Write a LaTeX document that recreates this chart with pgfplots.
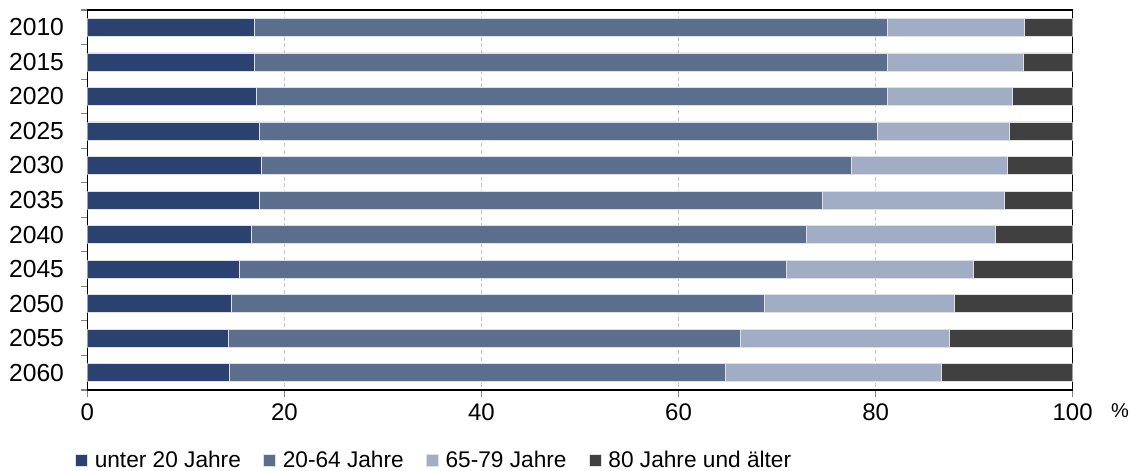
\documentclass[border=0pt]{standalone}
\usepackage{pgfplots}
\pgfplotsset{compat=1.18}
\usepackage{fontspec}
\setmainfont{Liberation Sans}
\definecolor{cA}{RGB}{43,65,112}
\definecolor{cB}{RGB}{92,110,142}
\definecolor{cC}{RGB}{160,173,196}
\definecolor{cD}{RGB}{64,64,64}
\begin{document}
\begin{tikzpicture}
\begin{axis}[
  scale only axis,
  width=739pt, height=285pt,
  xbar stacked,
  bar width=13.5pt,
  xmin=0, xmax=100,
  ymin=0.5, ymax=11.5,
  y dir=reverse,
  xtick={0,20,40,60,80,100},
  ytick={0.5,1.5,...,11.5},
  yticklabels={2010,2015,2020,2025,2030,2035,2040,2045,2050,2055,2060,{}},
  yticklabel style={yshift=-12.94pt, xshift=-9pt, font=\fontsize{18.5}{20}\selectfont},
  xticklabel style={font=\fontsize{18}{20}\selectfont, yshift=-2pt},
  /pgf/number format/assume math mode=true,
  tick align=outside,
  major tick length=5pt,
  xtick pos=bottom, ytick pos=left,
  tick style={draw=gray, line width=0.8pt},
  axis line style={black, line width=1.2pt},
  xmajorgrids,
  major x grid style={densely dashed, draw=black!22, line width=0.5pt},
  legend columns=4,
  legend style={draw=none, fill=none, at={(-0.0129,-0.184)}, anchor=west,
    font=\fontsize{17}{20}\selectfont,
    /tikz/every even column/.append style={column sep=14pt},
    inner sep=0pt},
  legend image code/.code={\fill[#1] (0pt,-4.5pt) rectangle (9pt,4.5pt); \path (12pt,0pt);},
  legend style={nodes={inner sep=2.5pt}},
  every axis plot/.append style={draw=black!12!white, line width=0.4pt},
]
\addplot[fill=cA] coordinates {(16.9,1) (16.9,2) (17.1,3) (17.5,4) (17.7,5) (17.5,6) (16.6,7) (15.4,8) (14.6,9) (14.3,10) (14.4,11)};
\addplot[fill=cB] coordinates {(64.3,1) (64.3,2) (64.1,3) (62.7,4) (59.8,5) (57.1,6) (56.4,7) (55.5,8) (54.1,9) (52.0,10) (50.3,11)};
\addplot[fill=cC] coordinates {(13.9,1) (13.8,2) (12.7,3) (13.4,4) (15.9,5) (18.5,6) (19.1,7) (19.0,8) (19.3,9) (21.2,10) (22.0,11)};
\addplot[fill=cD] coordinates {(4.9,1) (5.0,2) (6.1,3) (6.4,4) (6.6,5) (6.9,6) (7.9,7) (10.1,8) (12.0,9) (12.5,10) (13.3,11)};
\legend{unter 20 Jahre, 20-64 Jahre, 65-79 Jahre, 80 Jahre und älter}
\end{axis}
\node[font=\fontsize{15}{16}\selectfont, anchor=center] at (774.5pt,-15.75pt) {\%};
\pgfresetboundingbox
\useasboundingbox (-65.5pt,-60.75pt) rectangle (784.25pt,292.5pt);
\end{tikzpicture}
\end{document}
